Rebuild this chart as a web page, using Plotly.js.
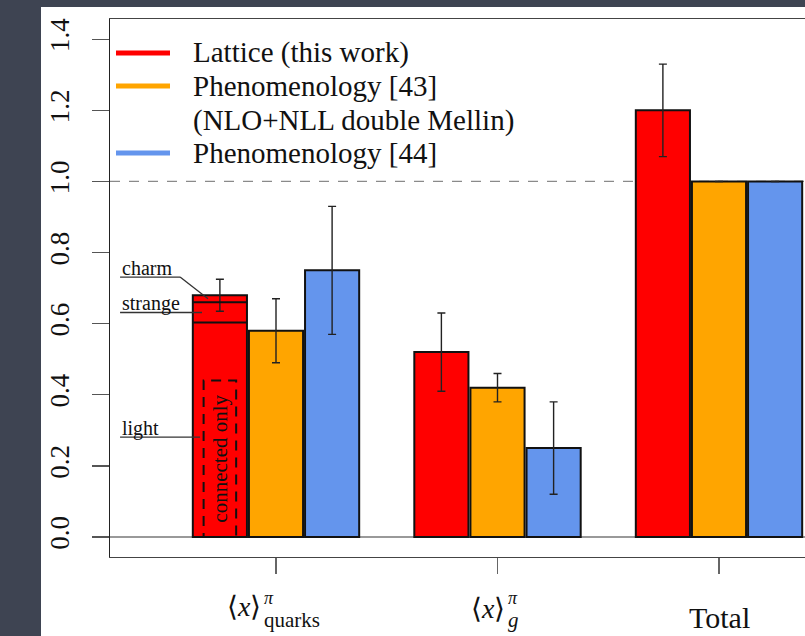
<!DOCTYPE html>
<html>
<head>
<meta charset="utf-8">
<script src="https://cdn.plot.ly/plotly-3.0.1.min.js"></script>
<style>
  html, body { margin: 0; padding: 0; width: 805px; height: 636px; overflow: hidden; background: #3e4452; }
  #chart { position: absolute; left: 41px; top: 7px; width: 764px; height: 629px; background: #ffffff; }
</style>
</head>
<body>
<div id="chart"></div>
<script>
// Pion momentum fractions: lattice result compared with two phenomenological fits
const categories = ['quarks', 'gluon', 'total'];
const seriesNames = ['Lattice (this work)', 'Phenomenology [43]', 'Phenomenology [44]'];
const seriesNote = ['', '(NLO+NLL double Mellin)', ''];
const seriesColors = ['#ff0000', '#ffa500', '#6495ed'];

const latticeVals = [0.68, 0.52, 1.20];
const latticeErr  = [0.045, 0.11, 0.13];
const pheno43Vals = [0.58, 0.42, 1.00];
const pheno43Err  = [0.09, 0.04, null];
const pheno44Vals = [0.75, 0.25, 1.00];
const pheno44Err  = [0.18, 0.13, null];

// lattice quark momentum fraction split by flavour, stacked from the bottom
const flavourNames = ['light', 'strange', 'charm'];
const flavourVals  = [0.603, 0.057, 0.020];
const connectedLight = 0.44;   // connected-only light-quark contribution
const sumRule = 1.0;           // momentum sum rule

const yTicks = [0, 0.2, 0.4, 0.6, 0.8, 1.0, 1.2, 1.4];
const xLabelMain = ['\u27E8<i>x</i>\u27E9', '\u27E8<i>x</i>\u27E9', 'Total'];
const xLabelSup  = ['<i>\u03C0</i>', '<i>\u03C0</i>', ''];
const xLabelSub  = ['quarks', '<i>g</i>', ''];

// ---- layout geometry -------------------------------------------------
const FONT = '"Liberation Serif", "Times New Roman", serif';
const W = 764, H = 629;
const OX = 41, OY = 7;                       // chart div offset on the page
const PL = 110, PR = 805, PT = 19, PB = 557; // plot box in page pixels
const BARGAP = 0.24, GROUPGAP = 0.035;
const slot = (1 - BARGAP) / 3;
const barW = slot * (1 - GROUPGAP);

const PX = x => (x - PL) / (PR - PL);
const PY = y => (PB - y) / (PB - PT);

function barTrace(name, vals, errs, color) {
  return {
    type: 'bar', name: name, x: categories, y: vals, offsetgroup: name,
    marker: { color: color, line: { color: '#111', width: 2 } },
    error_y: { type: 'data', array: errs, visible: true, color: '#222', thickness: 1.4, width: 4 },
    showlegend: false, hoverinfo: 'skip'
  };
}

const data = [
  barTrace(seriesNames[0], latticeVals, latticeErr, seriesColors[0]),
  barTrace(seriesNames[1], pheno43Vals, pheno43Err, seriesColors[1]),
  barTrace(seriesNames[2], pheno44Vals, pheno44Err, seriesColors[2])
];

// flavour boundaries inside the lattice quark bar
const redC = categories.indexOf('quarks') - slot;
const redL = redC - barW / 2, redR = redC + barW / 2;
const cum = [];
flavourVals.reduce((acc, v) => { cum.push(acc + v); return acc + v; }, 0);

const shapes = [];
const annotations = [];

// sum-rule reference line
shapes.push({ type: 'line', xref: 'paper', x0: 0, x1: 1, yref: 'y', y0: sumRule, y1: sumRule,
  layer: 'below', line: { color: '#8a8a8a', width: 1.3, dash: '10px,9px' } });

// light|strange and strange|charm boundaries
for (let i = 0; i < 2; i++) {
  shapes.push({ type: 'line', xref: 'x', yref: 'y', x0: redL, x1: redR, y0: cum[i], y1: cum[i],
    layer: 'above', line: { color: '#111', width: 2 } });
}

// connected-only box
const boxHalf = slot * 0.29;
shapes.push({ type: 'rect', xref: 'x', yref: 'y', x0: redC - boxHalf, x1: redC + boxHalf, y0: 0, y1: connectedLight,
  layer: 'above', line: { color: '#111', width: 2, dash: '10px,7px' }, fillcolor: 'rgba(0,0,0,0)' });
annotations.push({ xref: 'x', yref: 'y', x: redC, y: connectedLight / 2, text: 'connected only', showarrow: false,
  textangle: -90, font: { family: FONT, size: 21, color: '#111' } });

// flavour labels with underline leaders
const labelLeft = -0.704;
const flavourLabels = [
  { text: 'light',   y: 0.281,                     elbow: -0.343, endX: -0.343, endY: 0.281 },
  { text: 'strange', y: (cum[0] + cum[1]) / 2,     elbow: -0.334, endX: -0.334, endY: (cum[0] + cum[1]) / 2 },
  { text: 'charm',   y: 0.731,                     elbow: -0.433, endX: -0.307, endY: (cum[1] + cum[2]) / 2 }
];
flavourLabels.forEach(f => {
  annotations.push({ xref: 'x', yref: 'y', x: labelLeft, y: f.y, xanchor: 'left', yanchor: 'middle', yshift: 9,
    text: f.text, showarrow: false, font: { family: FONT, size: 20, color: '#111' } });
  shapes.push({ type: 'line', xref: 'x', yref: 'y', x0: labelLeft, x1: f.elbow, y0: f.y, y1: f.y,
    layer: 'above', line: { color: '#333', width: 1.3 } });
  if (f.endX !== f.elbow || f.endY !== f.y) {
    shapes.push({ type: 'line', xref: 'x', yref: 'y', x0: f.elbow, x1: f.endX, y0: f.y, y1: f.endY,
      layer: 'above', line: { color: '#333', width: 1.3 } });
  }
});

// legend
const legendLineY = [53, 86, 153];
const legendTextY = [53, 86, 120, 153];
const legendTexts = [seriesNames[0], seriesNames[1], seriesNote[1], seriesNames[2]];
legendLineY.forEach((y, i) => {
  shapes.push({ type: 'line', xref: 'paper', yref: 'paper', x0: PX(116), x1: PX(170), y0: PY(y), y1: PY(y),
    line: { color: seriesColors[i], width: 5 } });
});
legendTexts.forEach((t, i) => {
  annotations.push({ xref: 'paper', yref: 'paper', x: PX(191), y: PY(legendTextY[i]), xanchor: 'left', yanchor: 'middle',
    text: t, showarrow: false, font: { family: FONT, size: 29, color: '#111' } });
});

// category labels: main symbol with a superscript and a subscript beside it
const mainShift = [-15, 7, 0];
const scriptShift = [-12, 10, 0];
const mainY = [606, 608, 617];
categories.forEach((c, i) => {
  const isTotal = xLabelSup[i] === '';
  annotations.push({ xref: 'x', yref: 'paper', x: i, y: PY(mainY[i]), xshift: mainShift[i],
    xanchor: isTotal ? 'center' : 'right', yanchor: 'middle', text: xLabelMain[i], showarrow: false,
    borderpad: 0, borderwidth: 0,
    font: { family: FONT, size: isTotal ? 30 : 28, color: '#111' } });
  if (!isTotal) {
    annotations.push({ xref: 'x', yref: 'paper', x: i, y: PY(598), xshift: scriptShift[i],
      xanchor: 'left', yanchor: 'middle', text: xLabelSup[i], showarrow: false,
      borderpad: 0, borderwidth: 0, font: { family: FONT, size: 18, color: '#111' } });
    annotations.push({ xref: 'x', yref: 'paper', x: i, y: PY(619.5), xshift: scriptShift[i],
      xanchor: 'left', yanchor: 'middle', text: xLabelSub[i], showarrow: false,
      borderpad: 0, borderwidth: 0, font: { family: FONT, size: 21, color: '#111' } });
  }
});

const catUnit = 221.5; // pixels per category
const layout = {
  width: W, height: H,
  margin: { l: PL - OX, r: 0, t: PT - OY, b: H - (PB - OY), pad: 0 },
  paper_bgcolor: '#ffffff', plot_bgcolor: '#ffffff',
  barmode: 'group', bargap: BARGAP, bargroupgap: GROUPGAP,
  showlegend: false,
  font: { family: FONT, color: '#111' },
  xaxis: {
    type: 'category', categoryorder: 'array', categoryarray: categories,
    range: [-(276 - PL) / catUnit, (PR - 276) / catUnit],
    showticklabels: false, ticks: 'outside', ticklen: 16, tickwidth: 1.3, tickcolor: '#666',
    showline: true, mirror: true, linecolor: '#444', linewidth: 1.3,
    showgrid: false, zeroline: false, fixedrange: true
  },
  yaxis: {
    range: [-0.0563, 1.457],
    tickvals: yTicks, ticktext: yTicks.map(v => v.toFixed(1)),
    tickangle: -90, ticks: 'outside', ticklen: 17, tickwidth: 1.3, tickcolor: '#555',
    ticklabelstandoff: 12,
    tickfont: { family: FONT, size: 27, color: '#111' },
    showline: true, mirror: false, linecolor: '#222', linewidth: 1.3,
    showgrid: false, zeroline: true, zerolinecolor: '#999', zerolinewidth: 1.5, fixedrange: true
  },
  shapes: shapes,
  annotations: annotations
};

Plotly.newPlot('chart', data, layout, { displayModeBar: false, staticPlot: true });
</script>
</body>
</html>
